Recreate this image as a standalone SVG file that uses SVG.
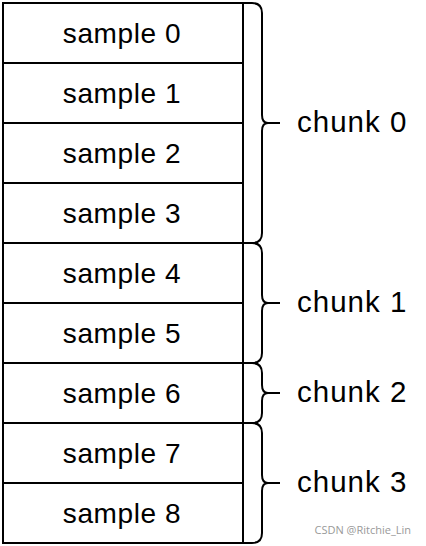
<svg xmlns="http://www.w3.org/2000/svg" width="426" height="546" viewBox="0 0 426 546">
<style>
.cell{fill:#fff;stroke:#000;stroke-width:2}
.t{font-family:"Liberation Sans",Arial,Helvetica,sans-serif;font-size:28px;letter-spacing:0.6px;fill:#000;text-anchor:middle}
.c{font-family:"Liberation Sans",Arial,Helvetica,sans-serif;font-size:29.5px;letter-spacing:1px;fill:#000}
.br{fill:none;stroke:#000;stroke-width:2}
.wm{font-family:"Open Sans","DejaVu Sans",sans-serif;font-size:11px;fill:#999;text-anchor:end}
</style>
<rect width="426" height="546" fill="#fff"/>
<g id="sample0"><rect class="cell" x="3" y="3" width="240" height="60"/><text class="t" x="122" y="43">sample 0</text></g>
<g id="sample1"><rect class="cell" x="3" y="63" width="240" height="60"/><text class="t" x="122" y="103">sample 1</text></g>
<g id="sample2"><rect class="cell" x="3" y="123" width="240" height="60"/><text class="t" x="122" y="163">sample 2</text></g>
<g id="sample3"><rect class="cell" x="3" y="183" width="240" height="60"/><text class="t" x="122" y="223">sample 3</text></g>
<g id="sample4"><rect class="cell" x="3" y="243" width="240" height="60"/><text class="t" x="122" y="283">sample 4</text></g>
<g id="sample5"><rect class="cell" x="3" y="303" width="240" height="60"/><text class="t" x="122" y="343">sample 5</text></g>
<g id="sample6"><rect class="cell" x="3" y="363" width="240" height="60"/><text class="t" x="122" y="403">sample 6</text></g>
<g id="sample7"><rect class="cell" x="3" y="423" width="240" height="60"/><text class="t" x="122" y="463">sample 7</text></g>
<g id="sample8"><rect class="cell" x="3" y="483" width="240" height="60"/><text class="t" x="122" y="523">sample 8</text></g>
<g id="connectors">
<path class="br" d="M243 3 L252 3 Q262 3 262 13 L262 115 Q262 123 268 123 L280 123 M268 123 Q262 123 262 131 L262 233 Q262 243 252 243 L243 243"/>
<path class="br" d="M243 243 L252 243 Q262 243 262 253 L262 295 Q262 303 268 303 L280 303 M268 303 Q262 303 262 311 L262 353 Q262 363 252 363 L243 363"/>
<path class="br" d="M243 363 L252 363 Q262 363 262 373 L262 385 Q262 393 268 393 L280 393 M268 393 Q262 393 262 401 L262 413 Q262 423 252 423 L243 423"/>
<path class="br" d="M243 423 L252 423 Q262 423 262 433 L262 475 Q262 483 268 483 L280 483 M268 483 Q262 483 262 491 L262 533 Q262 543 252 543 L243 543"/>
</g>
<g id="chunk0"><text class="c" x="297" y="132">chunk 0</text></g>
<g id="chunk1"><text class="c" x="297" y="312">chunk 1</text></g>
<g id="chunk2"><text class="c" x="297" y="402">chunk 2</text></g>
<g id="chunk3"><text class="c" x="297" y="492">chunk 3</text></g>
<text class="wm" x="411" y="534">CSDN @Ritchie_Lin</text>
</svg>
